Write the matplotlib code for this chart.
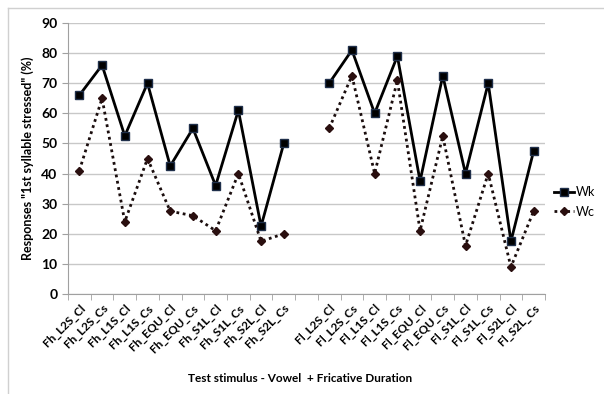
import matplotlib
matplotlib.use('Agg')
import matplotlib.pyplot as plt
import numpy as np

plt.rcParams['font.family'] = ['Lato', 'DejaVu Sans']

# categories (blank slot between the two groups)
cats = ['Fh_L2S_Cl', 'Fh_L2S_Cs', 'Fh_L1S_Cl', 'Fh_L1S_Cs', 'Fh_EQU_Cl', 'Fh_EQU_Cs',
        'Fh_S1L_Cl', 'Fh_S1L_Cs', 'Fh_S2L_Cl', 'Fh_S2L_Cs', '',
        'Fl_L2S_Cl', 'Fl_L2S_Cs', 'Fl_L1S_Cl', 'Fl_L1S_Cs', 'Fl_EQU_Cl', 'Fl_EQU_Cs',
        'Fl_S1L_Cl', 'Fl_S1L_Cs', 'Fl_S2L_Cl', 'Fl_S2L_Cs']

wk = [66, 76, 52.5, 70, 42.5, 55, 36, 61, 22.5, 50, np.nan,
      70, 81, 60, 79, 37.5, 72.5, 40, 70, 17.5, 47.5]
wc = [41, 65, 24, 45, 27.5, 26, 21, 40, 17.5, 20, np.nan,
      55, 72.5, 40, 71, 21, 52.5, 16, 40, 9, 27.5]

fig = plt.figure(figsize=(6.04, 3.94), dpi=100)
ax = fig.add_axes([68/604, 1-294/394, 477/604, 271/394])

x = np.arange(len(cats))
ax.plot(x, wk, color='black', lw=2, marker='s', ms=6, mfc='black', mec='#1f2f4a', label='Wk', zorder=3)
ax.plot(x, wc, color='#1a0d0d', lw=2, ls=(0, (1, 1.3)), marker='D', ms=4.5, mfc='#2a0f0f', mec='#2a0f0f', label='Wc', zorder=3)

ax.set_xlim(-0.5, len(cats) - 0.5)
ax.set_ylim(0, 90)
ax.set_yticks(range(0, 91, 10))
ax.yaxis.grid(True, color='#c8c8c8', lw=1)
ax.set_axisbelow(True)

ax.set_xticks(x)
ax.set_xticklabels(cats, rotation=45, ha='right', rotation_mode='anchor', fontsize=8.5, fontweight='bold')
ax.set_xticks(np.arange(-0.5, len(cats)), minor=True)
ax.tick_params(axis='x', which='major', length=0, pad=6)
ax.tick_params(axis='x', which='minor', length=4, color='#a0a0a0')
ax.tick_params(axis='y', length=4, color='#a0a0a0', labelsize=10)
for t in ax.get_yticklabels():
    t.set_fontweight('bold')

for s in ['top', 'right']:
    ax.spines[s].set_visible(False)
for s in ['left', 'bottom']:
    ax.spines[s].set_color('#a0a0a0')

ax.set_ylabel('Responses "1st syllable stressed" (%)', fontsize=9, fontweight='bold', labelpad=5)
fig.text(300/604, 1-378/394, 'Test stimulus - Vowel  + Fricative Duration', ha='center', va='center',
         fontsize=8.5, fontweight='bold')

ax.legend(loc='center left', bbox_to_anchor=(1.0, 0.34), frameon=False, fontsize=9,
          handlelength=1.6, handletextpad=0.2, labelspacing=0.6, borderaxespad=0.3)

# outer chart frame (top and left edges visible)
fig.add_artist(plt.Line2D([8/604, 1], [1-8/394, 1-8/394], color='#d0d0d0', lw=1))
fig.add_artist(plt.Line2D([8/604, 8/604], [0, 1-8/394], color='#d0d0d0', lw=1))

fig.savefig('out.png', dpi=100)
